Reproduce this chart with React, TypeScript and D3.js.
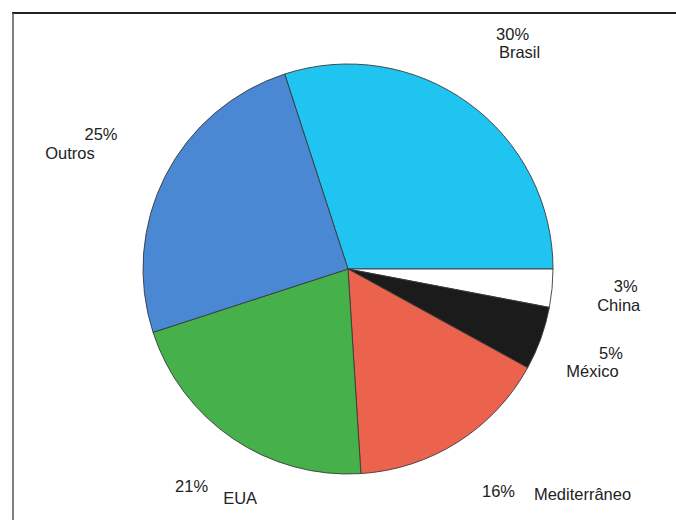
import React from "react";
import * as d3 from "d3";

const categories = ["Brasil", "China", "México", "Mediterrâneo", "EUA", "Outros"];
const values = [30, 3, 5, 16, 21, 25];
const percentLabels = ["30%", "3%", "5%", "16%", "21%", "25%"];

const colors = ["#1fc4f0", "#ffffff", "#1b1b1b", "#ec634d", "#46b04b", "#4a88d3"];
// text nudges relative to the label anchor: [pctDx, pctDy, nameDx, nameDy]
const labelNudges = [
  [0, -2.5, 7, 16],
  [-1, -3.5, -8, 15.5],
  [-0.5, -5, -19, 13.5],
  [0.5, -8.4, 84.5, -5.4],
  [1, -8.6, 49.5, 3.6],
  [2.5, -2, -28.5, 17],
];

const W = 676;
const H = 520;
const cx = 348;
const cy = 269;
const R = 205;
const RL = 280;

export default function App() {
  const total = d3.sum(values);
  const start = Math.PI / 2 - (2 * Math.PI * values[0]) / total;
  const pie = d3
    .pie<number>()
    .sort(null)
    .value((d) => d)
    .startAngle(start)
    .endAngle(start + 2 * Math.PI);
  const arcs = pie(values);
  const arc = d3.arc<d3.PieArcDatum<number>>().innerRadius(0).outerRadius(R);
  const labelArc = d3.arc<d3.PieArcDatum<number>>().innerRadius(RL).outerRadius(RL);

  return (
    <svg
      width={W}
      height={H}
      style={{ position: "fixed", left: 0, top: 0, background: "#fff" }}
      fontFamily="'Liberation Sans', Arial, sans-serif"
    >
      <rect x={0} y={0} width={W} height={H} fill="#fff" />
      <line x1={12} y1={13} x2={W} y2={13} stroke="#222" strokeWidth={2} />
      <line x1={13} y1={13} x2={13} y2={H} stroke="#555" strokeWidth={1.5} />
      <g transform={`translate(${cx},${cy})`}>
        {arcs.map((a, i) => (
          <path
            key={categories[i]}
            d={arc(a) || ""}
            fill={colors[i]}
            stroke="#3a3a3a"
            strokeWidth={0.9}
          />
        ))}
      </g>
      <g fill="#222" fontSize={16.5} textAnchor="middle">
        {arcs.map((a, i) => {
          const [lx, ly] = labelArc.centroid(a);
          const n = labelNudges[i];
          const x = cx + lx;
          const y = cy + ly;
          return (
            <g key={categories[i]}>
              <text x={x + n[0]} y={y + n[1]}>
                {percentLabels[i]}
              </text>
              <text x={x + n[2]} y={y + n[3]}>
                {categories[i]}
              </text>
            </g>
          );
        })}
      </g>
    </svg>
  );
}
